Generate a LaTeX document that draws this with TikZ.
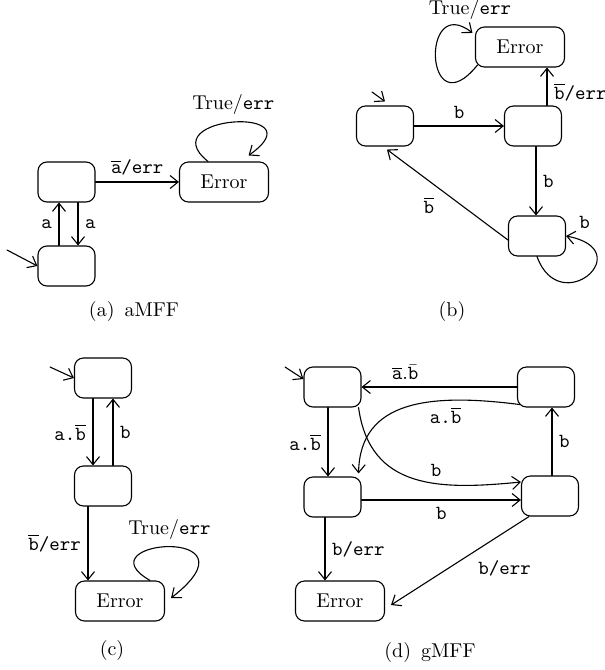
\documentclass[tikz,border=0pt]{standalone}
\usetikzlibrary{arrows.meta,calc}
\begin{document}
\begin{tikzpicture}[x=0.5pt,y=-0.5pt,>={Straight Barb[length=4pt,width=6.5pt]},line width=0.55pt,line join=round,line cap=round,
	mstate/.style={draw,rounded corners=4.5pt,minimum width=28.5pt,minimum height=20pt,inner sep=0pt},
	errstate/.style={mstate,minimum width=44.5pt}]
	\useasboundingbox (0,0) rectangle (605,670);
	% (a) aMFF
	\node[mstate] (a0) at (66.5,266) {};
	\node[mstate] (a1) at (66.5,182) {};
	\node[errstate] (aE) at (224,182) {Error};
	\coordinate (a0in) at (7,250);
	\draw[->] (a0in) -- (a0.west);
	\draw[->] ($(a0.north)+(-7.5,0)$) -- node[left]{\texttt{a}} ($(a1.south)+(-7.5,0)$);
	\draw[->] ($(a1.south)+(11.5,0)$) -- node[right]{\texttt{a}} ($(a0.north)+(11.5,0)$);
	\draw[->] (a1) -- node[above]{$\overline{\mathtt{a}}$\texttt{/err}} (aE);
	\draw[->] ($(aE.north)+(-16,0)$) .. controls (150,115) and (320,105) .. node[above]{True/\texttt{err}} ($(aE.north east)+(-20.5,-6)$);
	\node (acap) at (134,311) {(a)\enspace aMFF};
	% (b)
	\node[mstate] (bL) at (385,126) {};
	\node[mstate] (bR) at (533,126) {};
	\node[mstate] (bB) at (537,236) {};
	\node[errstate] (bE) at (520,47) {Error};
	\coordinate (bLin) at (372,92);
	\draw[->] (bLin) -- ($(bL.north)+(0,-4)$);
	\draw[->] (bL) -- node[above]{\texttt{b}} (bR);
	\draw[->] ($(bR.north)+(14,0)$) -- node[right,pos=0.35]{$\overline{\mathtt{b}}$\texttt{/err}} ($(bE.south)+(27,0)$);
	\draw[->] ($(bR.south)+(3,0)$) -- node[right]{\texttt{b}} ($(bB.north)+(-1,0)$);
	\draw[->] ($(bB.west)+(0,4)$) -- node[below left,pos=0.55]{$\overline{\mathtt{b}}$} ($(bL.south)+(2,3)$);
	\draw[->] (bB.south) .. controls (560,320) and (640,250) .. node[pos=1,above right,xshift=3pt]{\texttt{b}} (bB.east);
	\draw[->] ($(bE.south west)+(2.5,-2.5)$) .. controls (425,130) and (420,-8) .. ($(bE.north west)+(-2.5,6.5)$);
	\node (bloop) at (470,9) {True/\texttt{err}};
	\node (bcap) at (452,311) {(b)};
	% (c)
	\node[mstate] (c0) at (103,378) {};
	\node[mstate] (c1) at (103,486) {};
	\node[errstate] (cE) at (120,601) {Error};
	\coordinate (c0in) at (50,367);
	\draw[->] (c0in) -- (c0.west);
	\draw[->] ($(c0.south)+(-10,0)$) -- node[left]{\texttt{a.}$\overline{\mathtt{b}}$} ($(c1.north)+(-10,0)$);
	\draw[->] ($(c1.north)+(10,0)$) -- node[right]{\texttt{b}} ($(c0.south)+(10,0)$);
	\draw[->] ($(c1.south)+(-15,0)$) -- node[left]{$\overline{\mathtt{b}}$\texttt{/err}} ($(cE.north)+(-32,0)$);
	\draw[->] ($(cE.north)+(30,0)$) .. controls (80,540) and (265,525) .. node[above]{True/\texttt{err}} ($(cE.east)+(6,-3)$);
	\node (ccap) at (112,650) {(c)};
	% (d) gMFF
	\node[mstate] (d0) at (332.5,387) {};
	\node[mstate] (d3) at (546,387) {};
	\node[mstate] (d1) at (332.5,497) {};
	\node[mstate] (d2) at (550,496) {};
	\node[errstate] (dE) at (340,601) {Error};
	\coordinate (d0in) at (285,367);
	\draw[->] (d0in) -- ($(d0.west)+(0,-8)$);
	\draw[->] (d3) -- node[above,pos=0.72]{$\overline{\mathtt{a}}$.$\bar{\mathtt{b}}$} (d0);
	\draw[->] ($(d3.south west)+(3,-3)$) .. controls (430,393) and (360,400) .. node[below,pos=0.3]{\texttt{a.}$\overline{\mathtt{b}}$} ($(d1.north east)+(-3,-3)$);
	\draw[->] ($(d0.south)+(-4.5,0)$) -- node[left]{\texttt{a.}$\overline{\mathtt{b}}$} ($(d1.north)+(-4.5,0)$);
	\draw[->] ($(d0.south east)+(-3,0)$) .. controls (370,490) and (440,490) .. node[above,pos=0.62]{\texttt{b}} ($(d2.west)+(0,-14)$);
	\draw[->] ($(d1.east)+(0,3)$) -- node[below]{\texttt{b}} ($(d2.west)+(0,4)$);
	\draw[->] ($(d2.north)+(2,0)$) -- node[right]{\texttt{b}} ($(d3.south)+(6,0)$);
	\draw[->] ($(d1.south)+(-7.5,0)$) -- node[right]{\texttt{b/err}} ($(dE.north)+(-15,0)$);
	\draw[->] ($(d2.south)+(-21,0)$) -- node[below right,pos=0.42]{\texttt{b/err}} ($(dE.east)+(6,4)$);
	\node (dcap) at (430,652) {(d)\enspace gMFF};
\end{tikzpicture}
\end{document}
